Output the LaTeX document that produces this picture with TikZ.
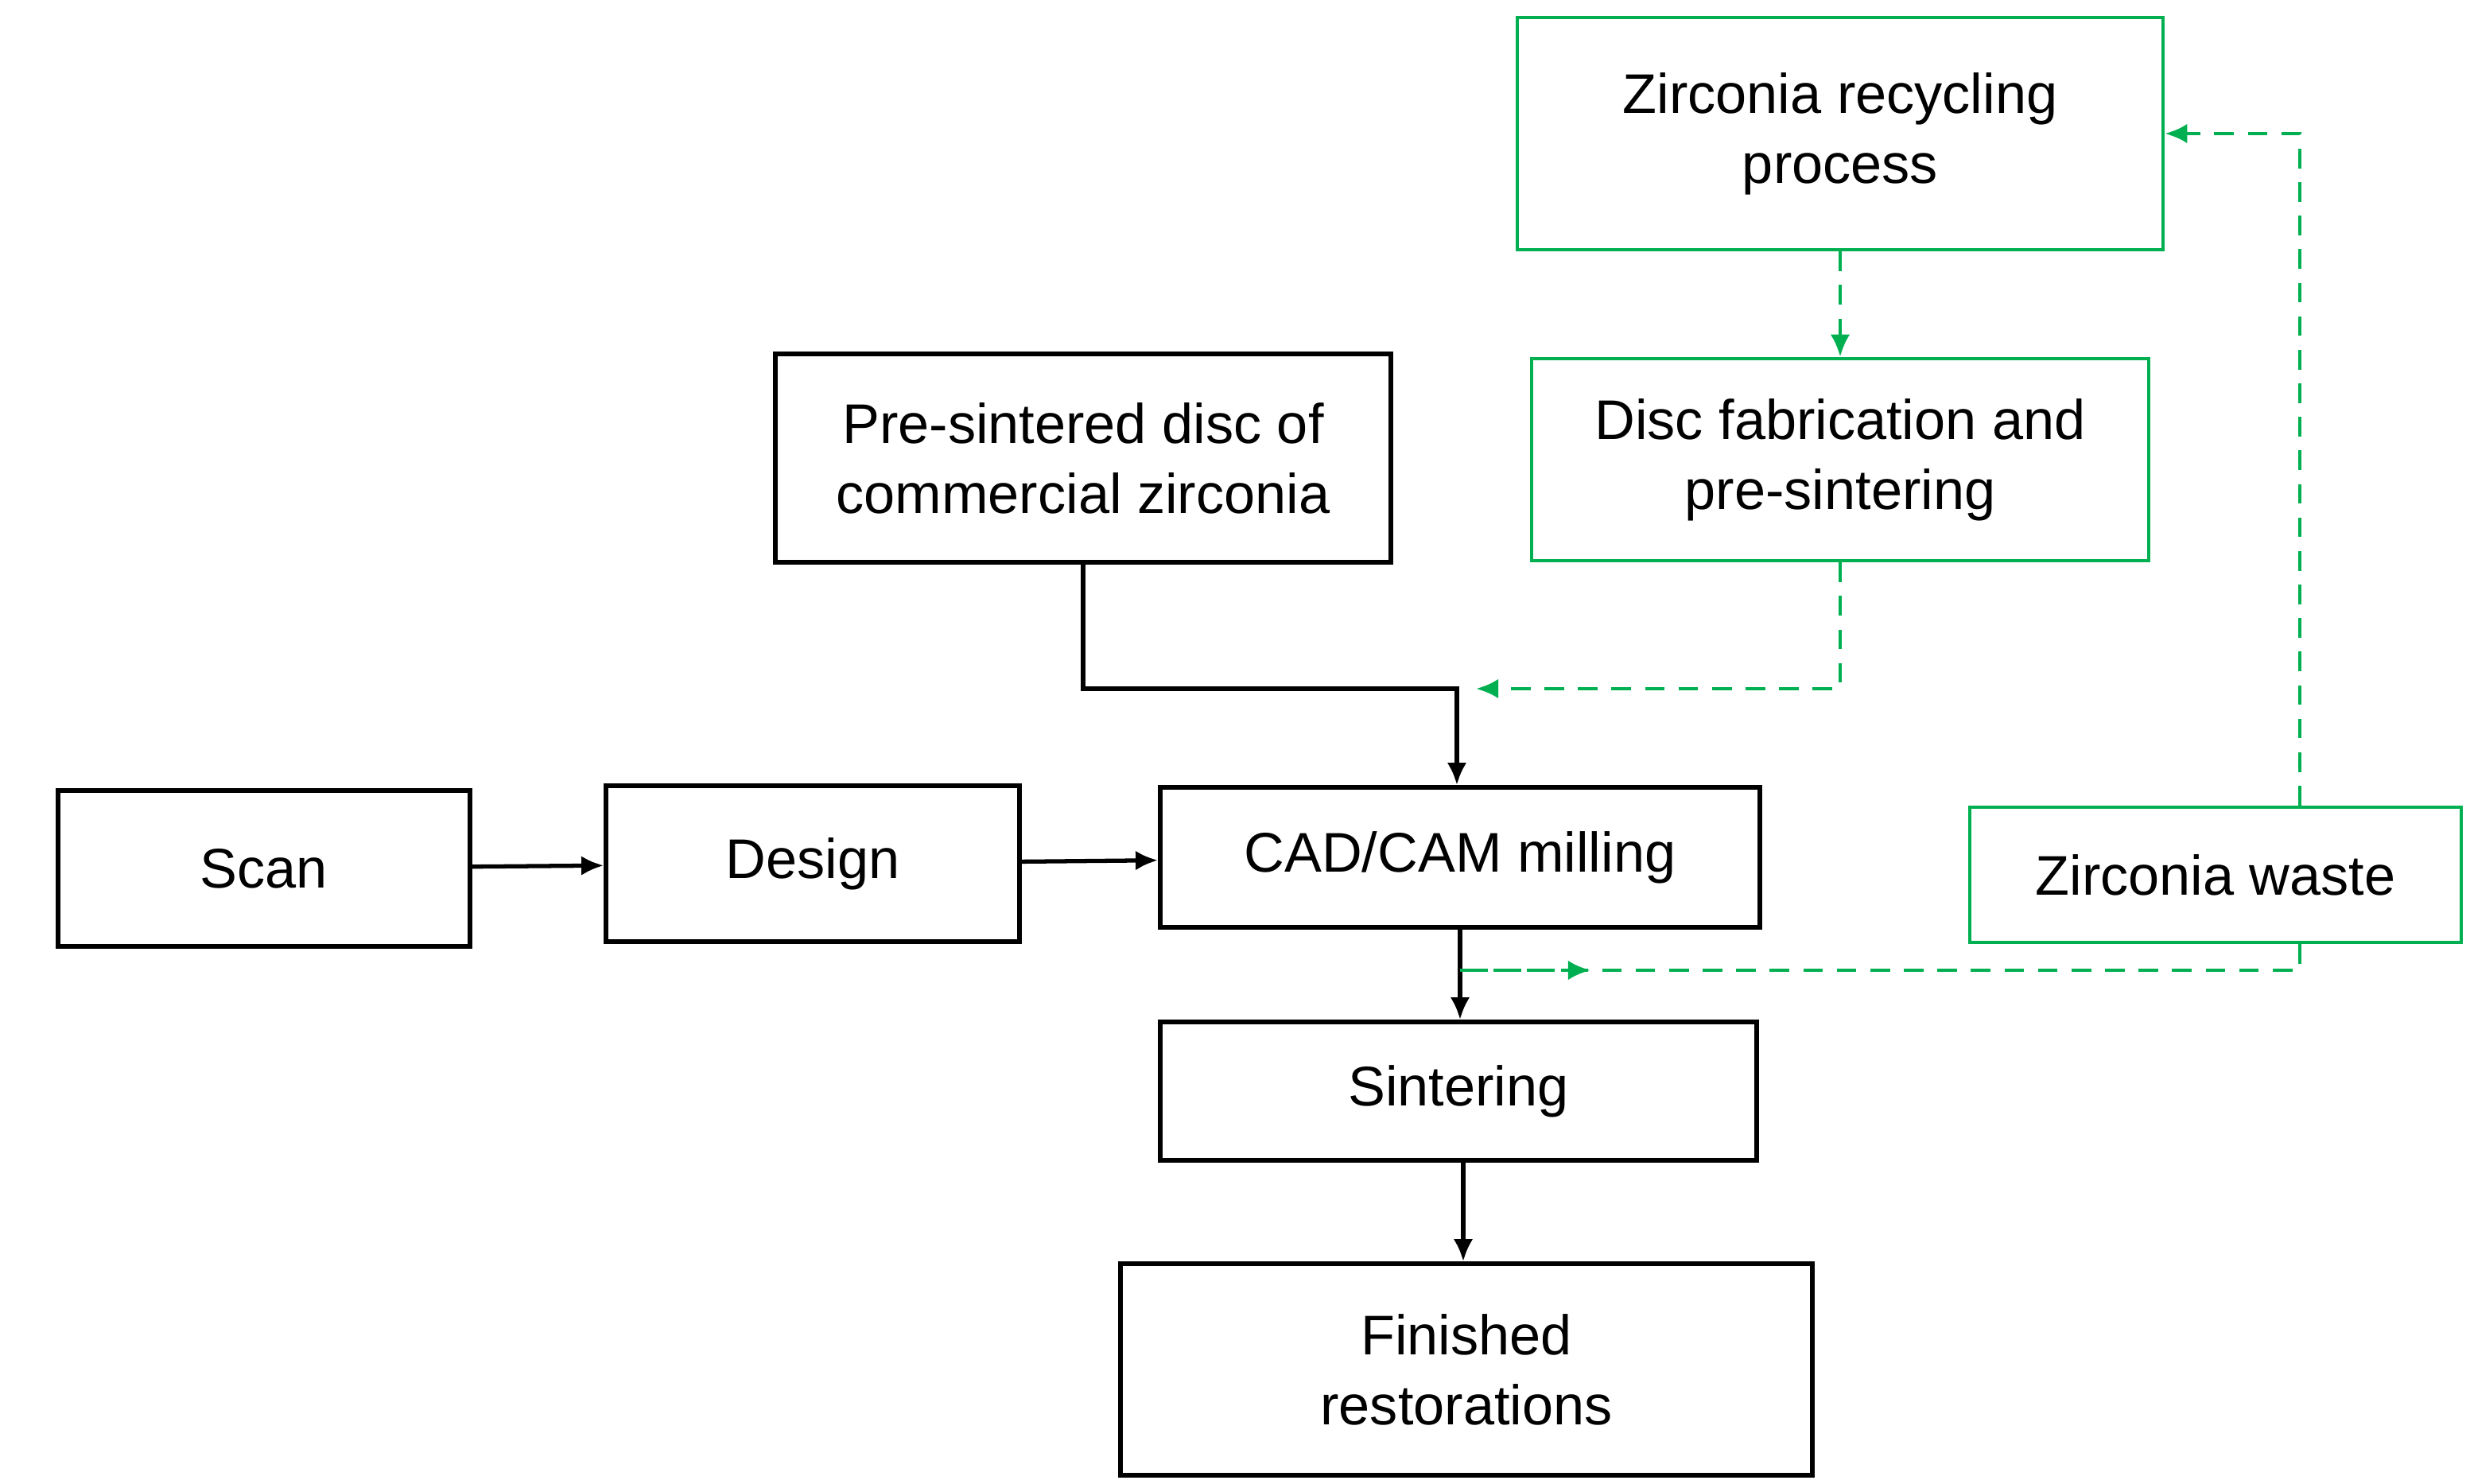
\documentclass[tikz,border=0pt]{standalone}
\usepackage{fontspec}
\setmainfont{Liberation Sans}
\definecolor{recyclegreen}{RGB}{0, 176, 80}
\usetikzlibrary{arrows.meta,positioning}
\tikzset{
  >={Latex[length=8pt,width=7pt]},
  stage/.style={draw,rectangle,line width=1.6pt,align=center,font=\fontsize{20}{25}\selectfont},
  greenstage/.style={stage,draw=recyclegreen,line width=1.3pt},
  flow/.style={->,line width=1.5pt},
  recycleflow/.style={->,line width=1.3pt,draw=recyclegreen,dash pattern=on 7pt off 5pt},
}
\begin{document}
\begin{tikzpicture}[x=0.02cm,y=-0.02cm]
        \useasboundingbox (0,0) rectangle (1553,933);

        \node[stage,minimum width=259*0.02cm,minimum height=98*0.02cm]    (scan)     at (166,546)  {Scan};
        \node[stage,minimum width=260*0.02cm,minimum height=98*0.02cm]    (design)   at (511,543)  {Design};
        \node[stage,minimum width=377*0.02cm,minimum height=88*0.02cm]    (milling)  at (918,539)  {CAD/CAM milling};
        \node[stage,minimum width=375*0.02cm,minimum height=87*0.02cm]    (sinter)   at (917,686)  {Sintering};
        \node[stage,minimum width=435*0.02cm,minimum height=133*0.02cm]   (finished) at (922,861)  {Finished\\restorations};
        \node[stage,minimum width=387*0.02cm,minimum height=131*0.02cm]   (disc)     at (681,288)  {Pre-sintered disc of\\commercial zirconia};
        \node[greenstage,minimum width=406*0.02cm,minimum height=146*0.02cm] (recycle) at (1157,84)  {Zirconia recycling\\process};
        \node[greenstage,minimum width=388*0.02cm,minimum height=127*0.02cm] (newdisc) at (1157,289) {Disc fabrication and\\pre-sintering};
        \node[greenstage,minimum width=309*0.02cm,minimum height=85*0.02cm]  (waste)   at (1393,550) {Zirconia waste};

        \coordinate (join)  at (916,433);
        \coordinate (split) at (918,610);
        \coordinate (mid)   at (1000,610);

        \draw[flow] (scan) -- (design);
        \draw[flow] (design) -- (milling);
        \draw[flow] (disc.south) |- (join) -- (join |- milling.north);
        \draw[flow] (milling.south -| split) -- (sinter.north -| split);
        \draw[flow] (sinter.south -| 920,0) -- (finished.north -| 920,0);

        \draw[recycleflow] (recycle) -- (newdisc);
        \draw[recycleflow] (newdisc.south) |- (928,433);
        \draw[recycleflow] (waste.north -| 1446,0) |- (recycle.east);
        \draw[recycleflow,-] (waste.south -| 1446,0) |- (split);
        \draw[recycleflow] (split) -- (mid);

    \end{tikzpicture}
\end{document}
